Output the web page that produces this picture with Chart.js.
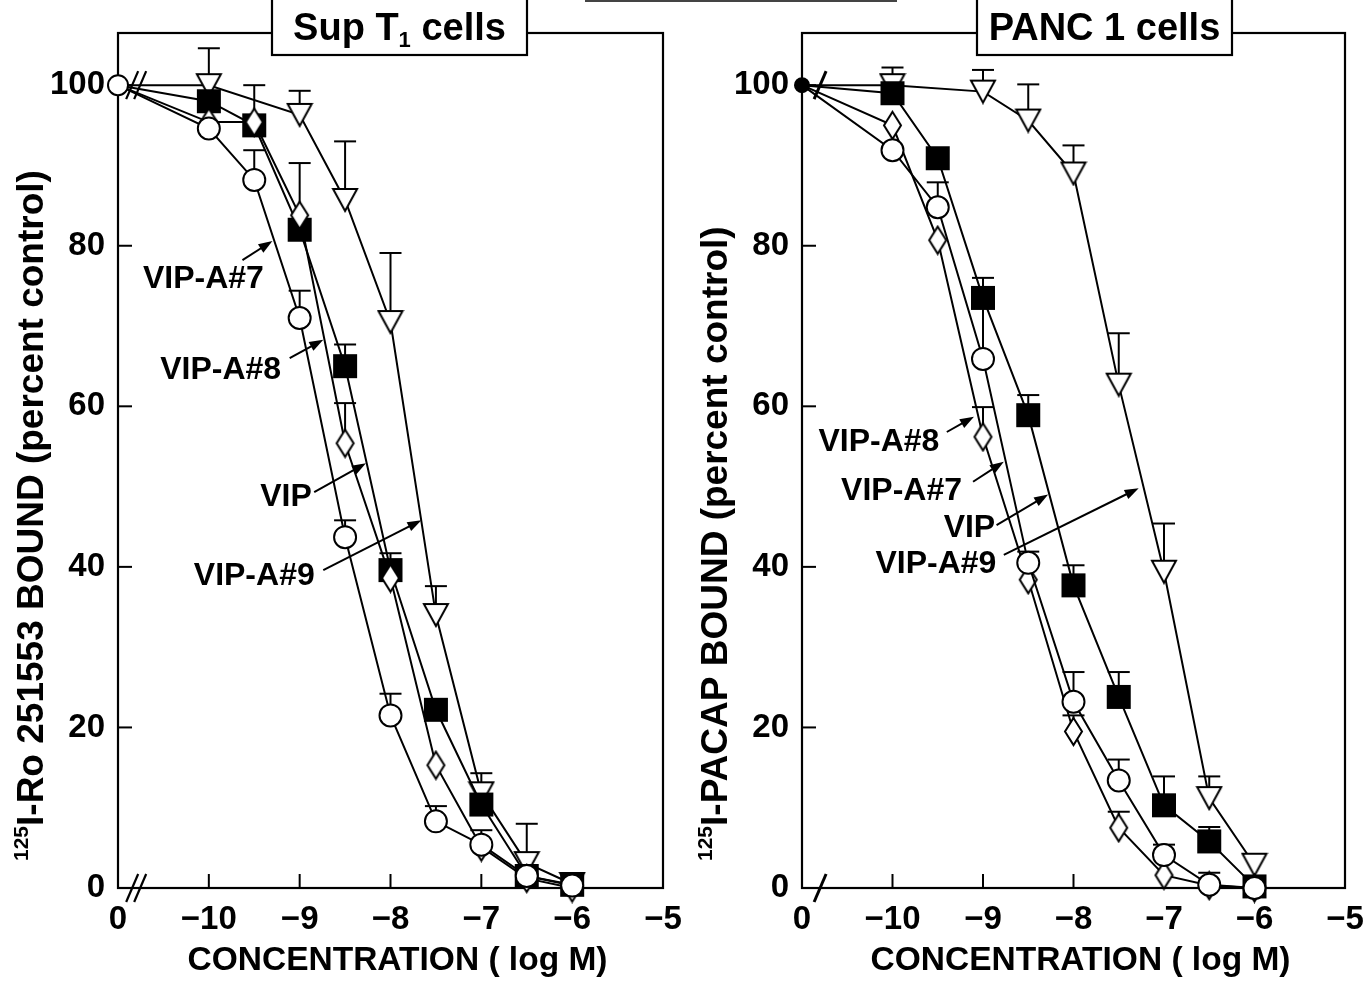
<!DOCTYPE html>
<html>
<head>
<meta charset="utf-8">
<script src="https://cdn.jsdelivr.net/npm/chart.js@4.4.1/dist/chart.umd.min.js"></script>
<style>
    html, body { margin: 0; padding: 0; background: #fff; }
    #page { position: relative; width: 1372px; height: 982px; overflow: hidden; }
    #page canvas { position: absolute; top: 0; }
    #left-chart { left: 0; }
    #right-chart { left: 686px; }
    .cut-line { position: absolute; left: 585px; top: 0; width: 312px; height: 0; border-top: 2px solid #444; }
</style>
</head>
<body>
<div id="page">
    <div class="cut-line"></div>
    <canvas id="left-chart" width="710" height="982"></canvas>
    <canvas id="right-chart" width="710" height="982"></canvas>
</div>
<script>
// Competitive binding curves, VIP and VIP analogues

const FONT = '"Liberation Sans", Arial, Helvetica, sans-serif';

// concentrations (log M); the control (no peptide) sits at the "0" end of the broken axis
const doses = [-10, -9.5, -9, -8.5, -8, -7.5, -7, -6.5, -6];
const controlDose = -11;
const controlValue = 100;
const xTickLabels = ['0', '\u221210', '\u22129', '\u22128', '\u22127', '\u22126', '\u22125'];

// Sup T1 cells: 125I-Ro 251553 bound (percent control), upper error bar sizes
const supVip = [98, 95, 82, 65, 39.6, 22.2, 10.4, 1.5, 0.4];
const supVipErr = [0, 0, 0, 2.7, 2.1, 0, 0, 0, 0];
const supA7 = [94.6, 88.2, 71, 43.7, 21.5, 8.3, 5.4, 1.5, 0.3];
const supA7Err = [0, 3.7, 3.4, 2.1, 2.7, 1.9, 1.8, 0, 0];
const supA8 = [95.4, 95.4, 83.8, 55.4, 38.6, 15.3, 5.1, 1.2, 0];
const supA8Err = [0, 4.6, 6.5, 5, 0, 0, 0, 0, 0];
const supA9 = [100, null, 96.3, 85.7, 70.5, 34, 11.8, 3.1, 0.5];
const supA9Err = [4.6, 0, 3, 7.3, 8.6, 3.6, 2.5, 4.9, 0];

// PANC 1 cells: 125I-PACAP bound (percent control)
const pancVip = [99, 90.9, 73.5, 58.9, 37.7, 23.8, 10.3, 5.8, 0.2];
const pancVipErr = [0, 0, 2.5, 2.5, 2.5, 3.1, 3.6, 1.8, 0];
const pancA7 = [91.9, 84.8, 65.9, 40.5, 23.2, 13.4, 4.1, 0.4, 0];
const pancA7Err = [0, 3.1, 7.5, 1.4, 3.7, 2.6, 1.3, 1.5, 0];
const pancA8 = [95, 80.7, 56.2, 38.4, 19.5, 7.5, 1.6, 0.3, 0];
const pancA8Err = [0, 0, 3.7, 0, 2, 2, 0, 0, 0];
const pancA9 = [100, null, 99.2, 95.6, 89, 62.7, 39.4, 11.2, 2.9];
const pancA9Err = [2.2, 0, 2.7, 4.5, 3.5, 6.4, 6, 2.7, 0];

// arrow labels, in data units (log M, percent)
const supNotes = [
    { text: 'VIP-A#7', at: [-10.06, 76.0], from: [-9.63, 78.2], to: [-9.30, 80.6] },
    { text: 'VIP-A#8', at: [-9.87, 64.6], from: [-9.11, 66.0], to: [-8.74, 68.3] },
    { text: 'VIP', at: [-9.15, 48.8], from: [-8.84, 49.3], to: [-8.27, 52.9] },
    { text: 'VIP-A#9', at: [-9.50, 39.0], from: [-8.74, 39.6], to: [-7.66, 45.8] }
];
const pancNotes = [
    { text: 'VIP-A#8', at: [-10.15, 55.7], from: [-9.40, 56.8], to: [-9.10, 58.7] },
    { text: 'VIP-A#7', at: [-9.90, 49.5], from: [-9.11, 50.6], to: [-8.77, 53.1] },
    { text: 'VIP', at: [-9.15, 45.0], from: [-8.85, 45.2], to: [-8.28, 49.0] },
    { text: 'VIP-A#9', at: [-9.52, 40.4], from: [-8.77, 41.5], to: [-7.28, 49.8] }
];

function markerCanvas(kind) {
    const sizes = { square: [22, 22], diamond: [17, 27], triangle: [24, 22] };
    const [w, h] = sizes[kind];
    const m = 2;
    const c = document.createElement('canvas');
    c.width = w + 2 * m;
    c.height = h + 2 * m;
    const g = c.getContext('2d');
    g.lineWidth = 2;
    g.strokeStyle = '#000';
    g.fillStyle = kind === 'square' ? '#000' : '#fff';
    g.beginPath();
    if (kind === 'square') {
        g.rect(m, m, w, h);
    } else if (kind === 'diamond') {
        g.moveTo(m + w / 2, m);
        g.lineTo(m + w, m + h / 2);
        g.lineTo(m + w / 2, m + h);
        g.lineTo(m, m + h / 2);
        g.closePath();
    } else {
        g.moveTo(m, m);
        g.lineTo(m + w, m);
        g.lineTo(m + w / 2, m + h);
        g.closePath();
    }
    g.fill();
    g.stroke();
    return c;
}

const markers = {
    square: markerCanvas('square'),
    diamond: markerCanvas('diamond'),
    triangle: markerCanvas('triangle')
};

function seriesDataset(label, values, errors, style) {
    const data = [{ x: controlDose, y: controlValue }];
    const errs = [0];
    values.forEach((v, i) => {
        if (v === null) return;
        data.push({ x: doses[i], y: v });
        errs.push(errors[i]);
    });
    return {
        label,
        data,
        errors: errs,
        borderColor: '#000',
        borderWidth: 2,
        tension: 0,
        clip: false,
        pointStyle: style === 'circle' ? 'circle' : markers[style],
        pointRadius: data.map((d, i) => (i === 0 ? 0 : 11)),
        pointBackgroundColor: '#fff',
        pointBorderColor: '#000',
        pointBorderWidth: 2
    };
}

function controlDataset(filled) {
    return {
        label: 'control',
        data: [{ x: controlDose, y: controlValue }],
        showLine: false,
        clip: false,
        pointStyle: 'circle',
        pointRadius: filled ? 7 : 10,
        pointBackgroundColor: filled ? '#000' : '#fff',
        pointBorderColor: '#000',
        pointBorderWidth: 2
    };
}

function line(ctx, x1, y1, x2, y2) {
    ctx.beginPath();
    ctx.moveTo(x1, y1);
    ctx.lineTo(x2, y2);
    ctx.stroke();
}

function drawRuns(ctx, runs, x, baseline, align) {
    let total = 0;
    runs.forEach(r => {
        ctx.font = `bold ${r.size}px ${FONT}`;
        r.w = ctx.measureText(r.text).width;
        total += r.w;
    });
    let cx = align === 'center' ? x - total / 2 : x;
    ctx.textAlign = 'left';
    ctx.textBaseline = 'alphabetic';
    runs.forEach(r => {
        ctx.font = `bold ${r.size}px ${FONT}`;
        ctx.fillText(r.text, cx, baseline + (r.dy || 0));
        cx += r.w;
    });
}

function makeFigurePlugin(panel) {
    return {
        id: 'figure',
        beforeDatasetsDraw(chart) {
            const { ctx, chartArea: a, scales: { x, y } } = chart;
            ctx.save();
            ctx.strokeStyle = '#000';
            ctx.lineWidth = 2.2;
            ctx.strokeRect(a.left, a.top, a.right - a.left, a.bottom - a.top);

            // inward tick marks
            ctx.lineWidth = 2;
            x.ticks.forEach(t => {
                if (t.value <= x.min || t.value >= x.max) return;
                const px = x.getPixelForValue(t.value);
                line(ctx, px, a.bottom, px, a.bottom - 14);
            });
            y.ticks.forEach(t => {
                if (t.value <= 0) return;
                const py = y.getPixelForValue(t.value);
                line(ctx, a.left, py, a.left + 14, py);
            });

            // upper error bars
            ctx.lineWidth = 2;
            chart.data.datasets.forEach((ds, i) => {
                if (!ds.errors) return;
                const meta = chart.getDatasetMeta(i);
                meta.data.forEach((pt, j) => {
                    const e = ds.errors[j];
                    if (!e) return;
                    const top = y.getPixelForValue(ds.data[j].y + e);
                    line(ctx, pt.x, pt.y, pt.x, top);
                    line(ctx, pt.x - 11, top, pt.x + 11, top);
                });
            });
            ctx.restore();
        },
        afterDraw(chart) {
            const { ctx, chartArea: a, scales: { x, y } } = chart;
            ctx.save();
            ctx.strokeStyle = '#000';
            ctx.fillStyle = '#000';

            // axis break marks
            ctx.lineWidth = panel.breakCount > 1 ? 2.2 : 3;
            [100, 0].forEach(v => {
                const bx = x.getPixelForValue(panel.breakAt);
                const by = y.getPixelForValue(v);
                for (let k = 0; k < panel.breakCount; k++) {
                    const off = (k - (panel.breakCount - 1) / 2) * 8;
                    line(ctx, bx + off - 6, by + 14, bx + off + 6, by - 14);
                }
            });

            // title box across the top frame
            const boxLeft = a.left + panel.boxLeft;
            ctx.fillStyle = '#fff';
            ctx.fillRect(boxLeft, -10, panel.boxWidth, 65);
            ctx.lineWidth = 2.2;
            ctx.strokeRect(boxLeft, -10, panel.boxWidth, 65);
            ctx.fillStyle = '#000';
            drawRuns(ctx, panel.titleRuns, boxLeft + panel.boxWidth / 2, 40, 'center');

            // x axis title
            ctx.font = `bold 33.5px ${FONT}`;
            ctx.textAlign = 'center';
            ctx.textBaseline = 'alphabetic';
            ctx.fillText('CONCENTRATION ( log M)', (a.left + a.right) / 2 + 7, 970);

            // y axis title, rotated, reading upward from near the bottom of the frame
            ctx.save();
            ctx.translate(a.left - 88, 861);
            ctx.rotate(-Math.PI / 2);
            drawRuns(ctx, panel.yTitleRuns, 0, 13, 'left');
            ctx.restore();

            // arrow labels
            ctx.font = `bold 32px ${FONT}`;
            ctx.textAlign = 'center';
            ctx.textBaseline = 'middle';
            ctx.lineWidth = 2;
            panel.notes.forEach(n => {
                ctx.fillText(n.text, x.getPixelForValue(n.at[0]), y.getPixelForValue(n.at[1]) + 1);
                const x1 = x.getPixelForValue(n.from[0]), y1 = y.getPixelForValue(n.from[1]);
                const x2 = x.getPixelForValue(n.to[0]), y2 = y.getPixelForValue(n.to[1]);
                const ang = Math.atan2(y2 - y1, x2 - x1);
                line(ctx, x1, y1, x2 - Math.cos(ang) * 8, y2 - Math.sin(ang) * 8);
                ctx.beginPath();
                ctx.moveTo(x2, y2);
                ctx.lineTo(x2 - Math.cos(ang) * 14 + Math.sin(ang) * 5, y2 - Math.sin(ang) * 14 - Math.cos(ang) * 5);
                ctx.lineTo(x2 - Math.cos(ang) * 14 - Math.sin(ang) * 5, y2 - Math.sin(ang) * 14 + Math.cos(ang) * 5);
                ctx.closePath();
                ctx.fill();
            });
            ctx.restore();
        }
    };
}

function buildChart(canvasId, panel) {
    const tickFont = { family: FONT, size: 33, weight: 'bold' };
    return new Chart(document.getElementById(canvasId), {
        type: 'line',
        data: { datasets: panel.datasets },
        options: {
            responsive: false,
            animation: false,
            events: [],
            layout: { padding: { top: 33, right: panel.padRight, left: 0, bottom: 0 } },
            plugins: { legend: { display: false }, tooltip: { enabled: false } },
            scales: {
                x: {
                    type: 'linear',
                    min: controlDose,
                    max: -5,
                    grid: { display: false, drawTicks: false },
                    border: { display: false },
                    ticks: {
                        stepSize: 1,
                        autoSkip: false,
                        maxRotation: 0,
                        padding: 12,
                        color: '#000',
                        font: tickFont,
                        callback: v => xTickLabels[Math.round(v - controlDose)]
                    },
                    afterFit: s => { s.height = 94; }
                },
                y: {
                    min: 0,
                    max: 106.5,
                    grid: { display: false, drawTicks: false },
                    border: { display: false },
                    ticks: { stepSize: 20, padding: 13, color: '#000', font: tickFont },
                    afterBuildTicks: s => { s.ticks = s.ticks.filter(t => t.value % 20 === 0); },
                    afterFit: s => { s.width = panel.yWidth; }
                }
            }
        },
        plugins: [makeFigurePlugin(panel)]
    });
}

buildChart('left-chart', {
    datasets: [
        controlDataset(false),
        seriesDataset('VIP-A#7', supA7, supA7Err, 'circle'),
        seriesDataset('VIP-A#8', supA8, supA8Err, 'diamond'),
        seriesDataset('VIP', supVip, supVipErr, 'square'),
        seriesDataset('VIP-A#9', supA9, supA9Err, 'triangle')
    ],
    notes: supNotes,
    yWidth: 118,
    padRight: 47,
    breakAt: -10.8,
    breakCount: 2,
    boxLeft: 154,
    boxWidth: 255,
    titleRuns: [{ text: 'Sup T', size: 38 }, { text: '1', size: 22, dy: 7 }, { text: ' cells', size: 38 }],
    yTitleRuns: [{ text: '125', size: 21, dy: -15 }, { text: 'I-Ro 251553 BOUND (percent control)', size: 37 }]
});

buildChart('right-chart', {
    datasets: [
        controlDataset(true),
        seriesDataset('VIP-A#7', pancA7, pancA7Err, 'circle'),
        seriesDataset('VIP-A#8', pancA8, pancA8Err, 'diamond'),
        seriesDataset('VIP', pancVip, pancVipErr, 'square'),
        seriesDataset('VIP-A#9', pancA9, pancA9Err, 'triangle')
    ],
    notes: pancNotes,
    yWidth: 116,
    padRight: 51,
    breakAt: -10.8,
    breakCount: 1,
    boxLeft: 175,
    boxWidth: 255,
    titleRuns: [{ text: 'PANC 1 cells', size: 38 }],
    yTitleRuns: [{ text: '125', size: 21, dy: -15 }, { text: 'I-PACAP BOUND (percent control)', size: 37 }]
});
</script>
</body>
</html>
